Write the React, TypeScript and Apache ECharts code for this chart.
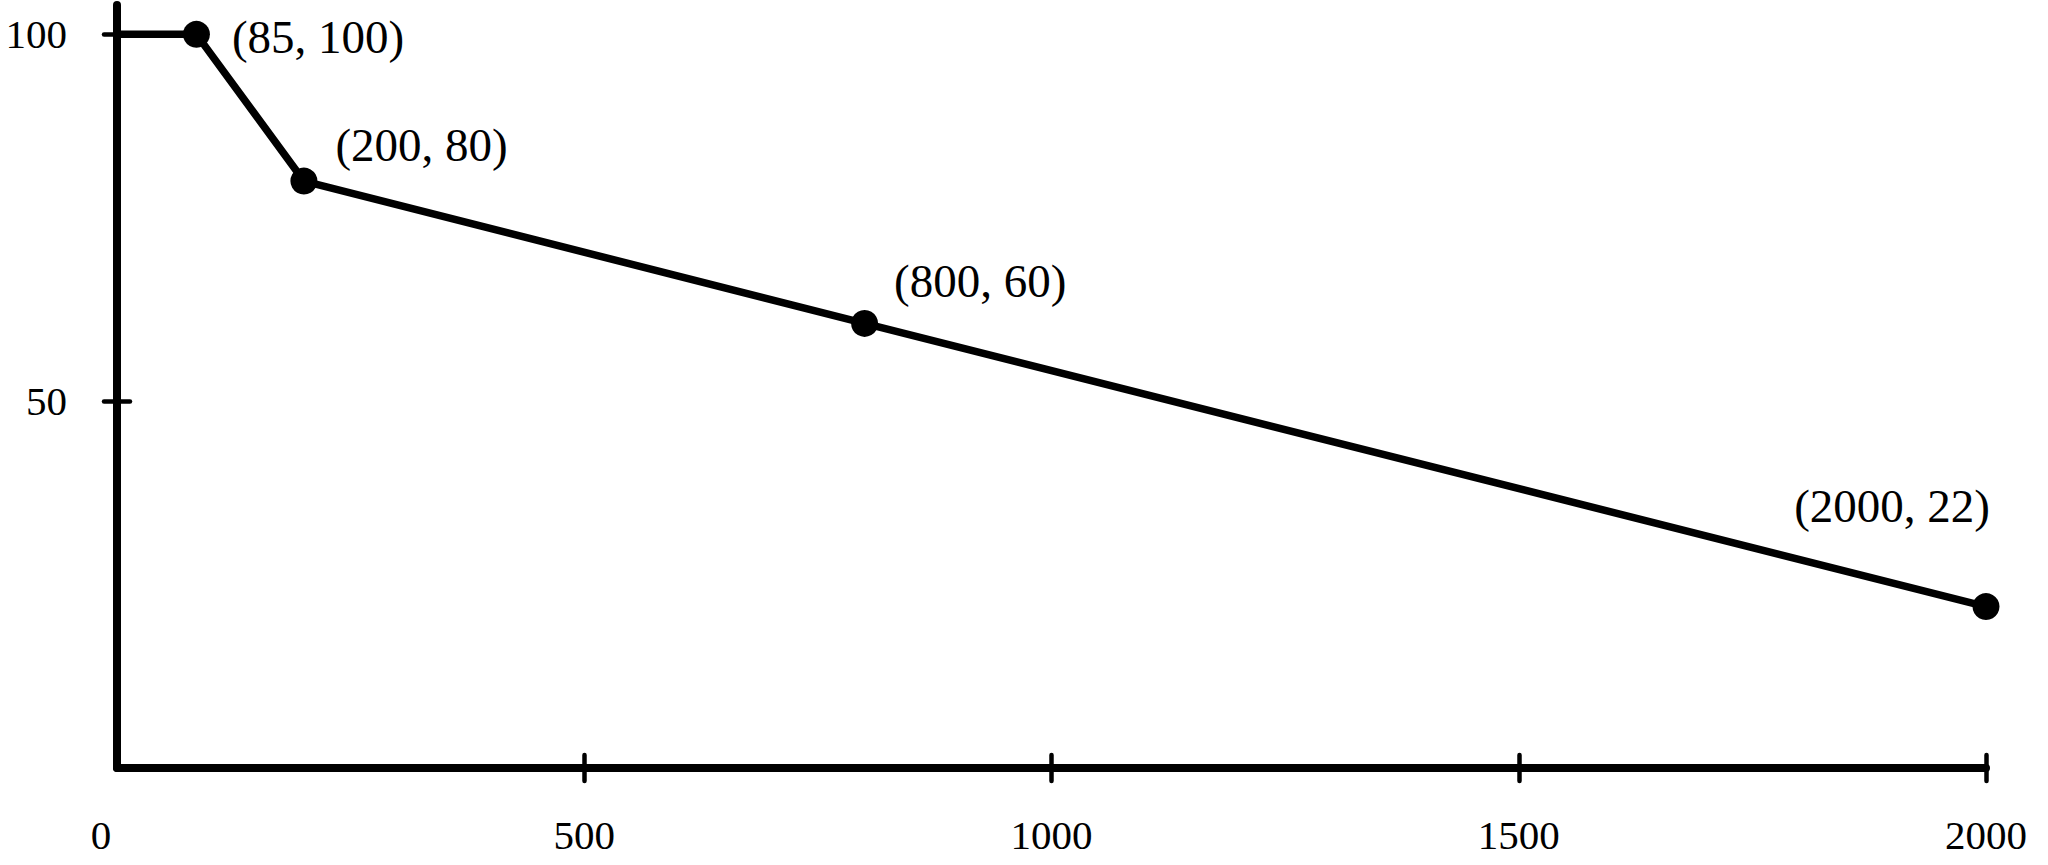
import React, { useEffect, useRef } from "react";
import * as echarts from "echarts";

// ---- data ----
const X_VALUES = [0, 85, 200, 800, 2000];
const Y_VALUES = [100, 100, 80, 60.6, 22];
const POINT_LABELS = ["", "(85, 100)", "(200, 80)", "(800, 60)", "(2000, 22)"];
const X_TICKS = [500, 1000, 1500, 2000];
const X_TICK_LABELS = [0, 500, 1000, 1500, 2000];
const Y_TICKS = [50, 100];
const Y_TICK_LABELS = [50, 100];

// ---- label placement (style, not data) ----
const LABEL_PLACEMENT: any[] = [
  null,
  { position: "right", distance: 22, offset: [0, 3] },
  { position: "right", distance: 18, offset: [0, -36] },
  { position: "right", distance: 16, offset: [0, -42] },
  { position: "top", align: "right", distance: 64, offset: [4, 0] },
];

const FONT = "'Liberation Serif', 'Times New Roman', serif";
const INK = "#000000";

export default function App() {
  const ref = useRef<HTMLDivElement>(null);

  useEffect(() => {
    if (!ref.current) return;
    const chart = echarts.init(ref.current, undefined, { renderer: "svg" });

    const data = X_VALUES.map((x, i) => {
      const item: any = { value: [x, Y_VALUES[i]] };
      if (!POINT_LABELS[i]) {
        item.symbol = "none";
        item.label = { show: false };
      } else {
        const p = LABEL_PLACEMENT[i];
        item.label = {
          show: true,
          formatter: POINT_LABELS[i],
          color: INK,
          fontFamily: FONT,
          fontSize: 47,
          ...p,
        };
      }
      return item;
    });

    const xMin = 0;
    const xMax = 2000;
    const yMin = 0;
    const yMax = 104;

    const tickStyle = { color: INK, width: 4.5, cap: "round" };

    chart.setOption({
      animation: false,
      backgroundColor: "#ffffff",
      grid: { left: 117, right: 62, top: 5, bottom: 97, containLabel: false },
      xAxis: [
        {
          type: "value",
          position: "bottom",
          min: xMin,
          max: xMax,
          interval: 500,
          axisLine: {
            show: true,
            onZero: false,
            lineStyle: { color: INK, width: 8, cap: "round" },
          },
          axisTick: {
            show: true,
            inside: true,
            length: 13,
            customValues: X_TICKS,
            lineStyle: tickStyle,
          },
          axisLabel: {
            show: true,
            customValues: X_TICK_LABELS,
            margin: 46,
            color: INK,
            fontFamily: FONT,
            fontSize: 41,
            formatter: (v: number) => (v === 0 ? "{o|0}" : String(v)),
            rich: {
              o: { padding: [0, 32, 0, 0], fontFamily: FONT, fontSize: 41, color: INK },
            },
          },
          splitLine: { show: false },
        },
        {
          type: "value",
          position: "bottom",
          min: xMin,
          max: xMax,
          interval: 500,
          axisLine: { show: false, onZero: false },
          axisTick: {
            show: true,
            inside: false,
            length: 13,
            customValues: X_TICKS,
            lineStyle: tickStyle,
          },
          axisLabel: { show: false },
          splitLine: { show: false },
        },
      ],
      yAxis: [
        {
          type: "value",
          position: "left",
          min: yMin,
          max: yMax,
          interval: 50,
          axisLine: {
            show: true,
            onZero: false,
            lineStyle: { color: INK, width: 8, cap: "round" },
          },
          axisTick: {
            show: true,
            inside: true,
            length: 13,
            customValues: Y_TICKS,
            lineStyle: tickStyle,
          },
          axisLabel: {
            show: true,
            customValues: Y_TICK_LABELS,
            margin: 50,
            color: INK,
            fontFamily: FONT,
            fontSize: 41,
          },
          splitLine: { show: false },
        },
        {
          type: "value",
          position: "left",
          min: yMin,
          max: yMax,
          interval: 50,
          axisLine: { show: false, onZero: false },
          axisTick: {
            show: true,
            inside: false,
            length: 13,
            customValues: Y_TICKS,
            lineStyle: tickStyle,
          },
          axisLabel: { show: false },
          splitLine: { show: false },
        },
      ],
      series: [
        {
          type: "line",
          xAxisIndex: 0,
          yAxisIndex: 0,
          data,
          clip: false,
          symbol: "circle",
          symbolSize: 27,
          showSymbol: true,
          lineStyle: { color: INK, width: 7.5, join: "round", cap: "round" },
          itemStyle: { color: INK, borderWidth: 0 },
          emphasis: { disabled: true },
          z: 5,
        },
      ],
    });

    return () => chart.dispose();
  }, []);

  return (
    <div
      ref={ref}
      style={{
        position: "fixed",
        left: 0,
        top: 0,
        width: "2048px",
        height: "865px",
        background: "#ffffff",
      }}
    />
  );
}
